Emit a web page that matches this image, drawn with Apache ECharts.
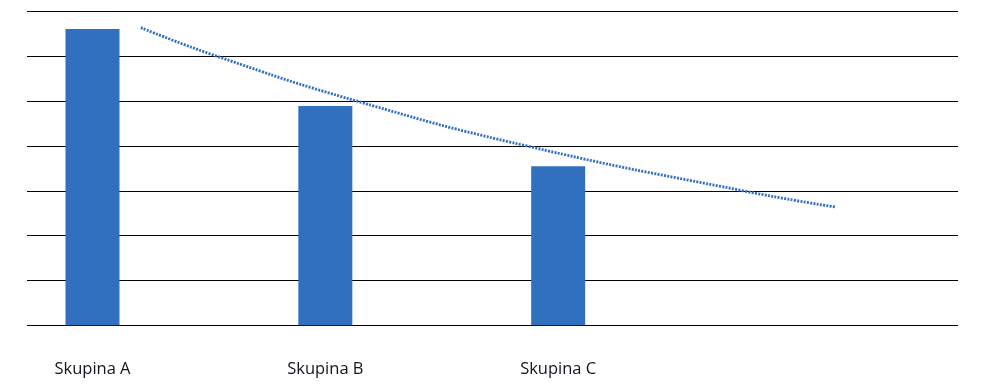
<!DOCTYPE html>
<html>
<head>
<meta charset="utf-8">
<script src="https://cdn.jsdelivr.net/npm/echarts@6/dist/echarts.min.js"></script>
<style>
html,body{margin:0;padding:0;background:#fff;}
#chart{width:985px;height:388px;}
</style>
</head>
<body>
<div id="chart"></div>
<script>
// Categories and bar values (y scale 0..7)
var categories = ['Skupina A', 'Skupina B', 'Skupina C', ''];
var barValues = [6.61, 4.89, 3.55, null];

// Trend line points: x in category-position units (1 = Skupina A), y value
var trendX = [1.21, 1.538, 2.14, 2.871, 3.80, 4.196];
var trendY = [6.64, 6.0, 5.0, 4.0, 3.0, 2.64];

var yTicks = [0, 1, 2, 3, 4, 5, 6, 7];

var trendData = trendX.map(function (x, i) { return [x, trendY[i]]; });

var chart = echarts.init(document.getElementById('chart'), null, {renderer: 'canvas'});
var TOP = 11.5, BOTTOM = 62.7;
var option = {
  animation: false,
  backgroundColor: '#ffffff',
  grid: [
    {left: 27, right: 27, top: TOP, bottom: BOTTOM},
    {left: 92.5, right: 194, top: TOP, bottom: BOTTOM}
  ],
  xAxis: [
    {type: 'value', gridIndex: 0, min: 0.7204, max: 4.7247, show: false},
    {type: 'category', gridIndex: 1, data: categories, boundaryGap: false,
     axisLine: {show: false}, axisTick: {show: false}, splitLine: {show: false},
     axisLabel: {show: true, margin: 35, color: '#141420', fontSize: 16.5,
                 fontFamily: 'Open Sans', interval: 0}}
  ],
  yAxis: [
    {type: 'value', gridIndex: 0, min: yTicks[0], max: yTicks[yTicks.length - 1], interval: 1,
     axisLine: {show: false}, axisTick: {show: false}, axisLabel: {show: false},
     splitLine: {show: true, lineStyle: {color: '#000', width: 1.2}}},
    {type: 'value', gridIndex: 1, min: yTicks[0], max: yTicks[yTicks.length - 1], interval: 1,
     show: false, splitLine: {show: false}}
  ],
  series: [
    {type: 'bar', xAxisIndex: 1, yAxisIndex: 1, data: barValues, barWidth: 54,
     itemStyle: {color: '#3170BF'}},
    {type: 'line', xAxisIndex: 0, yAxisIndex: 0, data: trendData, smooth: true,
     showSymbol: false, symbol: 'none', clip: false,
     lineStyle: {color: '#3170BF', width: 2.8, type: [2, 1.3]}}
  ]
};
chart.setOption(option);
</script>
</body>
</html>
